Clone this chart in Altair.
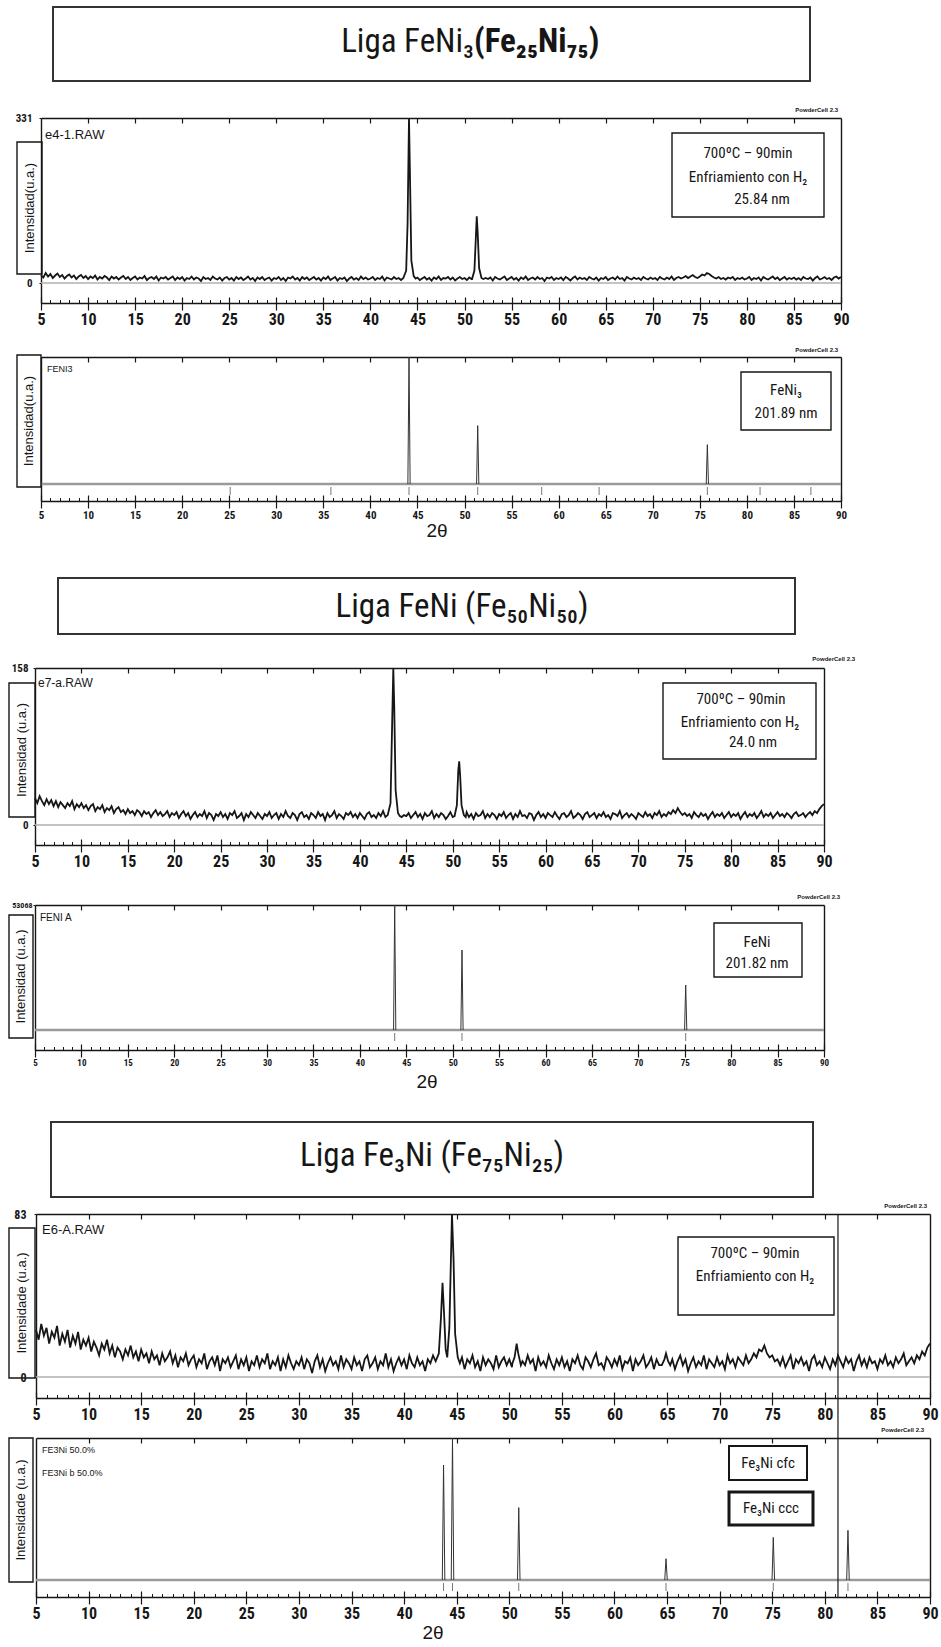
import altair as alt
import pandas as pd

W, H = 941, 1647
NARROW = "'Liberation Sans Narrow', 'Arial Narrow', 'Roboto Condensed', 'DejaVu Sans Condensed', 'Liberation Sans', sans-serif"
SANS = "'Liberation Sans', Arial, sans-serif"
INK = "#161616"
GREY = "#9a9a9a"

# ---------------- data ----------------
SCAN_START, SCAN_STEP = 5.0, 0.25
MAJOR = list(range(5, 91, 5))
MINOR = list(range(5, 91))

# e4-1.RAW  (FeNi3, counts) background on the 0.25 deg scan grid (one row = 5 deg)
g1_bg = [16, 11, 20, 13, 18, 10, 15, 19, 12, 16, 9, 14, 17, 11, 15, 8, 13, 16, 10, 14,
         8, 13, 10, 15, 7, 12, 9, 14, 11, 6, 13, 9, 12, 7, 11, 14, 8, 12, 6, 10,
         13, 7, 11, 9, 14, 6, 10, 12, 8, 13, 5, 11, 9, 12, 7, 10, 13, 6, 11, 8,
         12, 5, 10, 8, 13, 7, 11, 9, 4, 12, 8, 10, 6, 13, 9, 7, 11, 5, 10, 12,
         7, 10, 5, 12, 8, 11, 6, 9, 13, 7, 10, 4, 11, 8, 12, 6, 9, 11, 5, 10,
         8, 12, 6, 10, 4, 11, 9, 13, 7, 10, 5, 12, 8, 11, 6, 9, 12, 7, 10, 5,
         11, 8, 13, 6, 9, 12, 5, 10, 8, 11, 4, 9, 12, 7, 10, 6, 13, 8, 11, 7,
         9, 12, 6, 10, 8, 13, 5, 11, 9, 7, 12, 8, 10, 6, 11, 9, 12, 7, 10, 8,
         11, 6, 9, 12, 7, 10, 5, 11, 8, 13, 6, 10, 9, 12, 7, 11, 5, 9, 12, 8,
         10, 6, 11, 8, 12, 7, 9, 13, 6, 10, 8, 11, 5, 12, 9, 7, 10, 13, 6, 9,
         12, 7, 10, 5, 11, 8, 13, 6, 9, 11, 7, 12, 8, 10, 4, 11, 9, 12, 6, 10,
         8, 11, 6, 12, 9, 5, 10, 13, 7, 11, 8, 10, 6, 12, 9, 7, 11, 5, 10, 8,
         12, 6, 9, 11, 7, 13, 8, 10, 5, 12, 9, 7, 11, 8, 10, 6, 12, 9, 7, 11,
         8, 10, 6, 12, 9, 7, 11, 8, 13, 6, 10, 12, 9, 11, 14, 10, 13, 16, 12, 10,
         13, 17, 15, 20, 18, 14, 11, 9, 12, 8, 10, 7, 11, 9, 12, 6, 10, 8, 11, 7,
         9, 12, 6, 10, 8, 11, 5, 12, 9, 7, 10, 13, 8, 11, 6, 9, 12, 7, 10, 8,
         11, 7, 10, 6, 12, 9, 8, 11, 5, 10, 13, 7, 9, 12, 8, 10, 6, 11, 13, 9,
         12]
g1_peaks = [
    [(43.5, 10), (43.8, 25), (43.95, 120), (44.1, 331), (44.2, 220), (44.35, 45), (44.6, 14), (44.8, 9)],
    [(50.8, 8), (51.05, 25), (51.2, 90), (51.3, 134), (51.4, 100), (51.55, 30), (51.8, 10), (52.0, 8)],
]

# e7-a.RAW (FeNi, counts)
g3_bg = [27, 22, 29, 24, 20, 26, 21, 25, 19, 24, 18, 23, 20, 17, 22, 19, 24, 16, 21, 18,
         22, 17, 20, 15, 19, 21, 14, 18, 16, 20, 13, 17, 15, 19, 12, 16, 18, 13, 15, 11,
         16, 12, 14, 10, 15, 13, 9, 14, 11, 13, 8, 12, 15, 10, 13, 9, 11, 14, 8, 12,
         10, 13, 7, 11, 14, 9, 12, 6, 10, 13, 8, 11, 9, 14, 7, 12, 10, 5, 11, 9,
         13, 8, 11, 6, 12, 10, 14, 7, 9, 12, 5, 11, 8, 13, 10, 7, 12, 9, 6, 11,
         9, 13, 7, 10, 12, 6, 11, 8, 14, 9, 7, 12, 10, 5, 11, 13, 8, 10, 6, 12,
         10, 7, 13, 9, 11, 5, 12, 8, 10, 14, 7, 11, 9, 6, 12, 10, 13, 8, 11, 7,
         12, 9, 6, 11, 13, 8, 10, 7, 12, 9, 14, 8, 11, 10, 7, 12, 9, 11, 8, 10,
         9, 12, 7, 10, 13, 8, 11, 6, 12, 9, 10, 14, 7, 11, 8, 12, 10, 6, 9, 13,
         8, 11, 9, 12, 7, 10, 13, 8, 11, 6, 12, 9, 10, 14, 7, 11, 8, 12, 10, 6,
         11, 9, 13, 7, 10, 12, 6, 11, 8, 14, 9, 10, 7, 12, 11, 5, 10, 13, 8, 11,
         7, 12, 10, 8, 13, 9, 6, 11, 12, 8, 10, 14, 7, 9, 12, 10, 6, 11, 13, 8,
         10, 12, 7, 11, 9, 13, 8, 10, 6, 12, 11, 9, 14, 7, 10, 12, 8, 11, 9, 6,
         12, 10, 8, 13, 9, 11, 7, 12, 10, 14, 8, 11, 9, 13, 11, 15, 12, 17, 13, 10,
         12, 9, 11, 7, 13, 10, 8, 12, 9, 11, 6, 10, 13, 8, 11, 9, 12, 7, 10, 13,
         8, 11, 9, 12, 6, 10, 13, 8, 11, 9, 12, 7, 10, 14, 8, 11, 9, 12, 7, 10,
         13, 9, 11, 8, 12, 10, 7, 11, 13, 9, 10, 12, 8, 11, 13, 10, 14, 12, 16, 19,
         21]
g3_peaks = [
    [(43.0, 10), (43.3, 22), (43.45, 90), (43.6, 158), (43.7, 120), (43.85, 35), (44.1, 12), (44.3, 9)],
    [(50.2, 9), (50.45, 20), (50.6, 55), (50.7, 64), (50.8, 50), (50.95, 20), (51.2, 10), (51.4, 8)],
]

# E6-A.RAW (Fe3Ni, counts)
g5_bg = [24, 19, 27, 21, 25, 17, 23, 20, 26, 16, 22, 18, 24, 15, 21, 17, 23, 14, 19, 16,
         20, 13, 18, 15, 11, 17, 14, 19, 12, 16, 10, 15, 13, 9, 14, 11, 16, 10, 13, 8,
         14, 10, 12, 7, 13, 9, 11, 6, 12, 8, 10, 13, 7, 11, 5, 10, 8, 12, 6, 9,
         11, 5, 9, 7, 12, 4, 8, 10, 6, 11, 3, 9, 7, 10, 5, 8, 11, 4, 9, 6,
         10, 3, 8, 6, 11, 5, 9, 7, 12, 4, 8, 6, 10, 3, 9, 5, 11, 7, 4, 8,
         6, 10, 4, 9, 7, 2, 8, 11, 5, 9, 3, 7, 10, 6, 8, 4, 11, 5, 9, 7,
         4, 10, 6, 8, 3, 9, 11, 5, 7, 10, 4, 8, 6, 12, 5, 9, 3, 7, 10, 6,
         9, 4, 11, 7, 5, 10, 6, 8, 3, 9, 7, 11, 5, 8, 10, 6, 9, 7, 11, 8,
         8, 6, 10, 4, 9, 7, 11, 5, 8, 3, 10, 6, 9, 7, 4, 11, 5, 8, 10, 6,
         9, 5, 7, 10, 4, 8, 6, 11, 7, 9, 3, 10, 6, 8, 5, 11, 7, 4, 9, 6,
         10, 5, 8, 3, 9, 7, 11, 6, 4, 10, 8, 5, 9, 12, 6, 7, 4, 10, 8, 5,
         9, 6, 11, 4, 8, 7, 10, 3, 9, 6, 8, 11, 5, 7, 10, 4, 9, 6, 8, 5,
         10, 7, 9, 4, 8, 11, 6, 9, 3, 7, 10, 5, 8, 6, 11, 4, 9, 7, 5, 10,
         6, 8, 4, 11, 7, 9, 5, 10, 8, 6, 11, 7, 9, 12, 10, 14, 13, 16, 12, 10,
         11, 8, 9, 6, 10, 5, 8, 11, 4, 9, 7, 10, 6, 8, 3, 9, 11, 6, 8, 5,
         10, 7, 4, 9, 6, 11, 8, 5, 10, 7, 9, 3, 8, 11, 6, 9, 5, 10, 7, 8,
         4, 9, 7, 11, 6, 8, 5, 10, 7, 9, 12, 6, 8, 10, 7, 11, 9, 13, 11, 15,
         17]
g5_peaks = [
    [(43.0, 8), (43.3, 12), (43.5, 30), (43.65, 48), (43.8, 32), (43.95, 14), (44.1, 10),
     (44.3, 25), (44.45, 60), (44.55, 83), (44.7, 60), (44.85, 22), (45.1, 10), (45.3, 7)],
    [(50.3, 7), (50.5, 10), (50.7, 17), (50.85, 12), (51.1, 6)],
    [(64.5, 6), (64.75, 9), (64.9, 12), (65.1, 8), (65.3, 6)],
]

# reference patterns (PowderCell)
g2_pos = [44.1, 51.4, 75.8]
g2_int = [100, 46, 31]
g2_hkl = [25.1, 35.8, 44.1, 51.4, 58.2, 64.3, 75.8, 81.4, 86.8]

g4_pos = [43.75, 51.0, 75.1]
g4_int = [53068, 33960, 19100]
g4_hkl = [43.75, 51.0, 75.1]

g6_pos = [43.75, 44.6, 50.9, 64.9, 75.1, 82.2]
g6_int = [81, 100, 51, 15, 30, 35]
g6_hkl = [43.75, 44.6, 50.9, 64.9, 75.1, 82.2]

cursor_2theta = 81.25

# ---------------- helpers ----------------
def scan_frame(bg, peaks):
    pts = [(SCAN_START + SCAN_STEP * i, v) for i, v in enumerate(bg)]
    for pk in peaks:
        lo, hi = pk[0][0], pk[-1][0]
        pts = [p for p in pts if not (lo <= p[0] <= hi)]
        pts.extend(pk)
    pts.sort()
    return pd.DataFrame(pts, columns=["tt", "I"])


def stick_frame(pos, hts, half=0.12):
    rows = []
    for k, (c, h) in enumerate(zip(pos, hts)):
        rows += [(k, c - half, 0), (k, c, h), (k, c + half, 0)]
    return pd.DataFrame(rows, columns=["pk", "tt", "I"])


LAYOUT = {
    "g1": dict(x0=41, x1=841, top=118, zero=283, bot=303, ymax=331, lfs=16),
    "g2": dict(x0=41, x1=841, top=357, zero=484, bot=501, ymax=100, lfs=11),
    "g3": dict(x0=35, x1=824, top=668, zero=825, bot=845, ymax=158, lfs=16),
    "g4": dict(x0=35, x1=824, top=905, zero=1030, bot=1050, ymax=53068, lfs=9),
    "g5": dict(x0=36, x1=930, top=1214, zero=1377, bot=1398, ymax=83, lfs=16),
    "g6": dict(x0=36, x1=930, top=1438, zero=1580, bot=1597, ymax=100, lfs=16),
}


def per_px(g):
    return g["ymax"] / (g["zero"] - g["top"])


def scales(g):
    ylo = -(g["bot"] - g["zero"]) * per_px(g)
    xs = alt.Scale(domain=[5, 90], range=[g["x0"], g["x1"]], nice=False, zero=False)
    ys = alt.Scale(domain=[ylo, g["ymax"]], range=[g["bot"], g["top"]], nice=False, zero=False)
    return xs, ys, ylo


def frame_layers(g, main, left_vals, left_fs=11, left_pad=6):
    xs, ys, ylo = scales(g)
    ax_b = alt.Axis(orient="bottom", offset=g["bot"] - H, values=MAJOR, tickSize=7, tickWidth=1.2,
                    tickColor=INK, domainColor=INK, domainWidth=1.4, labelFont=NARROW,
                    labelFontSize=g["lfs"], labelFontWeight="bold", labelColor=INK, labelPadding=1,
                    labelFlush=False, labelOverlap=False, grid=False, title=None)
    ax_l = alt.Axis(orient="left", offset=-g["x0"], values=left_vals, tickSize=2, tickColor=INK,
                    domainColor=INK, domainWidth=1.4, labelFont=NARROW, labelFontSize=left_fs,
                    labelFontWeight="bold", labelColor=INK, labelPadding=left_pad, format="d",
                    labels=len(left_vals) > 0, ticks=len(left_vals) > 0,
                    grid=False, title=None)
    ax_minor = alt.Axis(orient="top", offset=-g["bot"], values=MINOR, tickSize=3.5, tickWidth=1,
                        tickColor=INK, labels=False, domain=False, grid=False, title=None)
    ax_major = alt.Axis(orient="top", offset=-g["bot"], values=MAJOR, tickSize=6, tickWidth=1.2,
                        tickColor=INK, labels=False, domain=False, grid=False, title=None)
    ax_top = alt.Axis(orient="bottom", offset=g["top"] - H, values=MAJOR[1:-1], tickSize=5,
                      tickWidth=1.2, tickColor=INK, domainColor=INK, domainWidth=1.4, labels=False,
                      grid=False, title=None)
    ax_r = alt.Axis(orient="right", offset=g["x1"] - W, values=[], ticks=False, labels=False,
                    domainColor=INK, domainWidth=1.4, grid=False, title=None)

    ends = pd.DataFrame({"tt": [5.0, 90.0], "I": [0.0, 0.0]})
    df, mark, extra = main
    return [
        mark(alt.Chart(df)).encode(x=alt.X("tt:Q", scale=xs, axis=ax_b),
                                   y=alt.Y("I:Q", scale=ys, axis=ax_l), **extra),
        alt.Chart(ends).mark_point(opacity=0).encode(x=alt.X("tt:Q", scale=xs, axis=ax_minor),
                                                     y=alt.Y("I:Q", scale=ys, axis=ax_r)),
        alt.Chart(ends).mark_point(opacity=0).encode(x=alt.X("tt:Q", scale=xs, axis=ax_major),
                                                     y=alt.Y("I:Q", scale=ys, axis=None)),
        alt.Chart(ends).mark_point(opacity=0).encode(x=alt.X("tt:Q", scale=xs, axis=ax_top),
                                                     y=alt.Y("I:Q", scale=ys, axis=None)),
    ]


def baseline(g, width, color):
    xs, ys, _ = scales(g)
    df = pd.DataFrame({"tt": [5.0], "tt2": [90.0], "I": [0.0]})
    return alt.Chart(df).mark_rule(color=color, strokeWidth=width).encode(
        x=alt.X("tt:Q", scale=xs, axis=None), x2="tt2:Q", y=alt.Y("I:Q", scale=ys, axis=None))


def hkl_ticks(g, pos):
    xs, ys, _ = scales(g)
    k = per_px(g)
    df = pd.DataFrame({"tt": pos, "lo": [-3 * k] * len(pos), "hi": [-11 * k] * len(pos)})
    return alt.Chart(df).mark_rule(color="#777777", strokeWidth=1).encode(
        x=alt.X("tt:Q", scale=xs, axis=None), y=alt.Y("lo:Q", scale=ys, axis=None), y2="hi:Q")


def cursor(g, top_val):
    xs, ys, ylo = scales(g)
    df = pd.DataFrame({"tt": [cursor_2theta], "lo": [ylo], "hi": [top_val]})
    return alt.Chart(df).mark_rule(color=INK, strokeWidth=1.2).encode(
        x=alt.X("tt:Q", scale=xs, axis=None), y=alt.Y("lo:Q", scale=ys, axis=None), y2="hi:Q")


one = pd.DataFrame({"k": [0]})


def label(s, x, y, size, font=NARROW, weight="normal", align="center", angle=0, color=INK):
    mk = dict(text=s, fontSize=size, font=font, fontWeight=weight, align=align,
              baseline="middle", color=color)
    if angle:
        mk["angle"] = angle
    return alt.Chart(one).mark_text(**mk).encode(x=alt.value(x), y=alt.value(y))


def box(x0, y0, x1, y1, sw=1.4, color=INK):
    return alt.Chart(one).mark_rect(fillOpacity=0, stroke=color, strokeWidth=sw).encode(
        x=alt.value(x0), x2=alt.value(x1), y=alt.value(y0), y2=alt.value(y1))


def scan_mark(c):
    return c.mark_line(color=INK, strokeWidth=1.8, strokeJoin="miter")


def stick_mark(c):
    return c.mark_line(color="#333333", strokeWidth=1)


layers = []
G = LAYOUT

# ---------- group 1 ----------
layers += [box(53, 7, 810, 81, sw=2, color="#333333"),
           label("Liga FeNi\u2083", 474, 42, 33, align="right"),
           label("(Fe\u2082\u2085Ni\u2087\u2085)", 474, 42, 33, weight="bold", align="left")]
layers.append(baseline(G["g1"], 1.5, "#b0b0b0"))
layers += frame_layers(G["g1"], (scan_frame(g1_bg, g1_peaks), scan_mark, {}), [0, 331], 11, 7)
layers += [baseline(G["g2"], 2.5, GREY), hkl_ticks(G["g2"], g2_hkl)]
layers += frame_layers(G["g2"], (stick_frame(g2_pos, g2_int), stick_mark, {"detail": "pk:N"}), [])

# ---------- group 2 ----------
layers += [box(58, 578, 795, 634, sw=2, color="#333333"),
           label("Liga FeNi (Fe\u2085\u2080Ni\u2085\u2080)", 462, 607, 33)]
layers.append(baseline(G["g3"], 1.5, "#b0b0b0"))
layers += frame_layers(G["g3"], (scan_frame(g3_bg, g3_peaks), scan_mark, {}), [0, 158], 11, 5)
layers += [baseline(G["g4"], 2.5, GREY), hkl_ticks(G["g4"], g4_hkl)]
layers += frame_layers(G["g4"], (stick_frame(g4_pos, g4_int), stick_mark, {"detail": "pk:N"}),
                       [53068], 8, 1)

# ---------- group 3 ----------
layers += [box(51, 1122, 813, 1197, sw=2, color="#333333"),
           label("Liga Fe\u2083Ni (Fe\u2087\u2085Ni\u2082\u2085)", 432, 1156, 33)]
layers.append(baseline(G["g5"], 1.5, "#b0b0b0"))
layers += frame_layers(G["g5"], (scan_frame(g5_bg, g5_peaks), scan_mark, {}), [0, 83], 12, 8)
layers.append(cursor(G["g5"], 83))
layers += [baseline(G["g6"], 2.5, GREY), hkl_ticks(G["g6"], g6_hkl)]
layers += frame_layers(G["g6"], (stick_frame(g6_pos, g6_int), stick_mark, {"detail": "pk:N"}), [])
layers.append(cursor(G["g6"], (G["g6"]["zero"] - G["g5"]["bot"]) * per_px(G["g6"])))

# ---------- y-label boxes ----------
for (x0, y0, x1, y1, s) in [(17, 142, 42, 274, "Intensidad(u.a.)"),
                            (17, 355, 41, 487, "Intensidad(u.a.)"),
                            (9, 683, 35, 817, "Intensidad (u.a.)"),
                            (9, 915, 33, 1038, "Intensidad (u.a.)"),
                            (9, 1228, 35, 1378, "Intensidade (u.a.)"),
                            (9, 1438, 33, 1582, "Intensidade (u.a.)")]:
    layers.append(box(x0, y0, x1, y1, sw=1.4))
    layers.append(label(s, (x0 + x1) / 2, (y0 + y1) / 2, 13, font=SANS, angle=270))

# ---------- curve names ----------
for (s, x, y, fs) in [("e4-1.RAW", 45, 135, 13), ("FENI3", 47, 369, 9), ("e7-a.RAW", 38, 683, 12),
                      ("FENI A", 40, 918, 10), ("E6-A.RAW", 42, 1230, 13),
                      ("FE3Ni  50.0%", 42, 1450, 9), ("FE3Ni b 50.0%", 42, 1473, 9)]:
    layers.append(label(s, x, y, fs, font=SANS, align="left"))

# ---------- PowderCell tags ----------
for (x, y) in [(838, 110), (838, 350), (855, 659), (840, 897), (927, 1206), (924, 1430)]:
    layers.append(label("PowderCell 2.3", x, y, 6, font=SANS, weight="bold", align="right"))

# ---------- annotation boxes ----------
layers += [box(672, 133, 824, 217),
           label("700\u00baC \u2013 90min", 748, 153, 15),
           label("Enfriamiento con H\u2082", 748, 177, 15),
           label("25.84 nm", 762, 199, 15)]
layers += [box(741, 372, 831, 430), label("FeNi\u2083", 786, 390, 15), label("201.89 nm", 786, 413, 15)]
layers += [box(663, 683, 816, 759),
           label("700\u00baC \u2013 90min", 741, 699, 15),
           label("Enfriamiento con H\u2082", 740, 722, 15),
           label("24.0 nm", 753, 742, 15)]
layers += [box(714, 923, 802, 977), label("FeNi", 757, 942, 15), label("201.82 nm", 757, 963, 15)]
layers += [box(678, 1237, 834, 1315),
           label("700\u00baC \u2013 90min", 755, 1253, 15),
           label("Enfriamiento con H\u2082", 755, 1276, 15)]
layers += [box(729, 1446, 807, 1480, sw=2), label("Fe\u2083Ni  cfc", 768, 1463, 15),
           box(729, 1492, 813, 1525, sw=3), label("Fe\u2083Ni ccc", 771, 1508, 15)]

# ---------- 2-theta labels ----------
for (x, y) in [(437, 531), (427, 1082), (433, 1633)]:
    layers.append(label("2\u03b8", x, y, 19, font=SANS))

chart = (alt.layer(*layers)
         .resolve_scale(x="independent", y="independent")
         .resolve_axis(x="independent", y="independent")
         .properties(width=W, height=H, autosize=alt.AutoSizeParams(type="none"), padding=0,
                     background="white")
         .configure_view(strokeWidth=0))

chart.save("out.html", embed_options={"renderer": "svg", "actions": False})
